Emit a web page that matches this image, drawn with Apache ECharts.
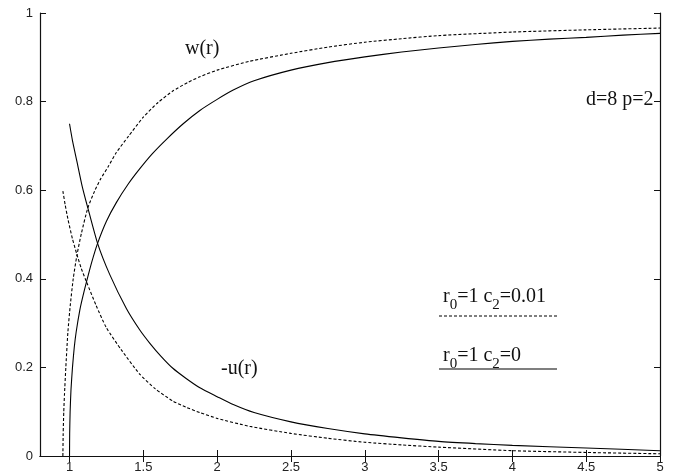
<!DOCTYPE html>
<html>
<head>
<meta charset="utf-8">
<script src="https://cdn.jsdelivr.net/npm/echarts@6/dist/echarts.min.js"></script>
<style>html,body{margin:0;padding:0;background:#fff}#c{width:684px;height:474px}</style>
</head>
<body>
<div id="c"></div>
<script>
// x tick labels and y ticks
var xTicks = [1, 1.5, 2, 2.5, 3, 3.5, 4, 4.5, 5];
// c2 = 0 (solid)
var wSolid = [[1.0,0],[1.001,0.05],[1.004,0.1],[1.01,0.15],[1.02,0.2],[1.032,0.245],[1.045,0.28],[1.07,0.33],[1.09,0.36],[1.115,0.393],[1.15,0.437],[1.19,0.48],[1.25,0.53],[1.317,0.572],[1.4,0.615],[1.475,0.648],[1.56,0.682],[1.66,0.716],[1.77,0.75],[1.883,0.78],[2.0,0.805],[2.109,0.826],[2.25,0.847],[2.5,0.871],[2.75,0.888],[3.0,0.901],[3.25,0.912],[3.5,0.921],[3.75,0.929],[4.0,0.936],[4.25,0.941],[4.5,0.945],[4.75,0.95],[5.0,0.954]];
var uSolid = [[1.0,0.75],[1.02,0.712],[1.05,0.665],[1.085,0.61],[1.124,0.56],[1.19,0.48],[1.272,0.41],[1.385,0.333],[1.475,0.285],[1.543,0.255],[1.62,0.225],[1.7,0.198],[1.79,0.175],[1.883,0.154],[2.0,0.134],[2.109,0.116],[2.25,0.098],[2.5,0.077],[2.75,0.062],[3.0,0.05],[3.25,0.041],[3.5,0.033],[3.75,0.028],[4.0,0.024],[4.5,0.018],[5.0,0.012]];
// c2 = 0.01 (dashed)
var wDashed = [[0.955,0],[0.957,0.05],[0.961,0.1],[0.966,0.14],[0.975,0.2],[0.989,0.28],[1.005,0.34],[1.025,0.4],[1.05,0.453],[1.08,0.502],[1.124,0.56],[1.17,0.598],[1.21,0.625],[1.26,0.652],[1.317,0.685],[1.4,0.722],[1.5,0.765],[1.6,0.798],[1.7,0.824],[1.8,0.843],[1.883,0.856],[2.0,0.871],[2.22,0.891],[2.5,0.909],[2.75,0.923],[3.0,0.934],[3.25,0.942],[3.5,0.949],[4.0,0.957],[4.5,0.962],[5.0,0.966]];
var uDashed = [[0.955,0.598],[0.97,0.568],[0.989,0.535],[1.02,0.49],[1.05,0.455],[1.08,0.423],[1.115,0.393],[1.18,0.34],[1.249,0.29],[1.35,0.24],[1.475,0.185],[1.58,0.152],[1.7,0.124],[1.79,0.11],[1.883,0.098],[2.0,0.085],[2.22,0.067],[2.5,0.051],[2.75,0.04],[3.0,0.031],[3.25,0.025],[3.5,0.02],[4.0,0.012],[4.5,0.008],[5.0,0.005]];

var chart = echarts.init(document.getElementById('c'));
var axisCol = '#111';
var serif = '"Liberation Serif", "Times New Roman", serif';
function line(data, dashed) {
  return {
    type: 'line', data: data, showSymbol: false, smooth: 0.2,
    silent: true, animation: false,
    lineStyle: {color: '#000', width: 1.1, type: dashed ? [3, 2] : 'solid'}
  };
}
var sub = {fontFamily: serif, fontSize: 15, lineHeight: 26, verticalAlign: 'bottom', fill: '#111'};
var main = {fontFamily: serif, fontSize: 20, lineHeight: 21, verticalAlign: 'top', fill: '#111'};
var sans = '"Liberation Sans", Arial, sans-serif';
chart.setOption({
  animation: false,
  grid: {left: 40, right: 24, top: 13, bottom: 16},
  xAxis: [{
    type: 'value', min: 0.8, max: 5,
    axisLine: {lineStyle: {color: axisCol, width: 1.2}},
    axisTick: {inside: true, length: 6, customValues: xTicks, lineStyle: {color: axisCol}},
    axisLabel: {customValues: xTicks, margin: 5, fontSize: 13, color: '#222', fontFamily: sans},
    splitLine: {show: false}
  }, {
    type: 'value', min: 0.8, max: 5, position: 'top',
    axisLine: {lineStyle: {color: axisCol, width: 1.2}},
    axisTick: {inside: true, length: 6, customValues: xTicks, lineStyle: {color: axisCol}},
    axisLabel: {show: false}, splitLine: {show: false}
  }],
  yAxis: [{
    type: 'value', min: 0, max: 1, interval: 0.2,
    axisLine: {show: true, lineStyle: {color: axisCol, width: 1.2}},
    axisTick: {show: true, inside: true, length: 6, lineStyle: {color: axisCol}},
    axisLabel: {margin: 7, fontSize: 13, color: '#222', fontFamily: sans},
    splitLine: {show: false}
  }, {
    type: 'value', min: 0, max: 1, interval: 0.2, position: 'right',
    axisLine: {show: true, lineStyle: {color: axisCol, width: 1.2}},
    axisTick: {show: true, inside: true, length: 6, lineStyle: {color: axisCol}},
    axisLabel: {show: false}, splitLine: {show: false}
  }],
  series: [line(wDashed, true), line(uDashed, true), line(wSolid, false), line(uSolid, false)],
  graphic: [
    {type: 'text', left: 185, top: 39, style: {text: 'w(r)', font: '20px ' + serif, fill: '#111'}},
    {type: 'text', left: 221, top: 359, style: {text: '-u(r)', font: '20px ' + serif, fill: '#111'}},
    {type: 'text', left: 586, top: 90, style: {text: 'd=8 p=2', font: '20px ' + serif, fill: '#111'}},
    {type: 'text', left: 443, top: 287, style: {text: '{a|r}{s|0}{a|=1 c}{s|2}{a|=0.01}', rich: {a: main, s: sub}}},
    {type: 'line', shape: {x1: 439, y1: 316, x2: 557, y2: 316}, style: {stroke: '#000', lineWidth: 1.1, lineDash: [3, 2]}},
    {type: 'text', left: 443, top: 346, style: {text: '{a|r}{s|0}{a|=1 c}{s|2}{a|=0}', rich: {a: main, s: sub}}},
    {type: 'line', shape: {x1: 439, y1: 369, x2: 557, y2: 369}, style: {stroke: '#000', lineWidth: 1.1}}
  ]
});
</script>
</body>
</html>
